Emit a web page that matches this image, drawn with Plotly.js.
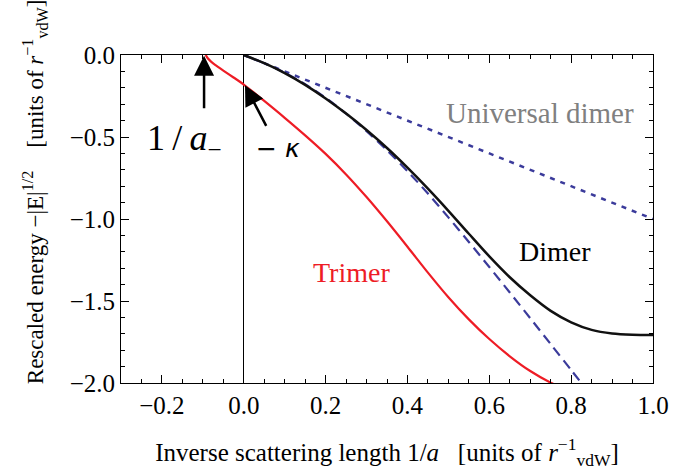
<!DOCTYPE html>
<html>
<head>
<meta charset="utf-8">
<script src="https://cdn.plot.ly/plotly-3.0.1.min.js"></script>
<style>html,body{margin:0;padding:0;background:#fff;}#chart{width:693px;height:470px;}</style>
</head>
<body>
<div id="chart"></div>
<script>
// Inverse scattering length 1/a (units of r_vdW^-1)
const dimerX = [0, 0.05, 0.1, 0.15, 0.2, 0.25, 0.3, 0.35, 0.4, 0.45, 0.5, 0.55, 0.6, 0.65, 0.7, 0.75, 0.8, 0.85, 0.9, 0.95, 1.0];
const dimerY = [0, -0.05, -0.11, -0.182, -0.265, -0.357, -0.457, -0.567, -0.687, -0.815, -0.95, -1.09, -1.228, -1.355, -1.465, -1.56, -1.63, -1.676, -1.698, -1.706, -1.708];

const trimerX = [-0.093, -0.088, -0.08, -0.07, -0.05, -0.025, 0, 0.05, 0.1, 0.15, 0.2, 0.25, 0.3, 0.35, 0.4, 0.45, 0.5, 0.55, 0.6, 0.65, 0.7, 0.75, 0.77];
const trimerY = [0, -0.02, -0.04, -0.06, -0.095, -0.137, -0.18, -0.28, -0.383, -0.49, -0.603, -0.728, -0.866, -1.014, -1.169, -1.327, -1.477, -1.612, -1.732, -1.837, -1.927, -1.998, -2.02];

const dashedX = [0, 0.05, 0.1, 0.15, 0.2, 0.25, 0.3, 0.35, 0.4, 0.45, 0.5, 0.55, 0.6, 0.65, 0.7, 0.75, 0.8, 0.83];
const dashedY = [0, -0.05, -0.108, -0.178, -0.261, -0.357, -0.464, -0.581, -0.708, -0.845, -0.99, -1.14, -1.293, -1.448, -1.605, -1.763, -1.921, -2.016];

const universalX = [0, 1.0];
const universalY = [0, -1.0];

// tick settings (labels every 0.2 on x, every 0.5 on y)
const xTickStep = 0.2, xMinorStep = 0.05;
const yTickStep = 0.5, yMinorStep = 0.1;

const serif = "Liberation Serif, Times New Roman, serif";
const blue = "#3b3b9b";

const traces = [
  {x: universalX, y: universalY, mode: "lines", line: {color: blue, width: 2.5, dash: "5px,6px"}, hoverinfo: "skip"},
  {x: dashedX, y: dashedY, mode: "lines", line: {color: blue, width: 2.2, dash: "10px,6px", shape: "spline", smoothing: 0.8}, hoverinfo: "skip"},
  {x: dimerX, y: dimerY, mode: "lines", line: {color: "#111111", width: 2.5, shape: "spline", smoothing: 0.8}, hoverinfo: "skip"},
  {x: trimerX, y: trimerY, mode: "lines", line: {color: "#ee1c25", width: 2.2, shape: "spline", smoothing: 0.8}, hoverinfo: "skip"}
];

const layout = {
  width: 693, height: 470,
  margin: {l: 121, r: 40, t: 55, b: 87},
  showlegend: false,
  font: {family: serif, color: "#000", size: 25},
  xaxis: {
    range: [-0.3, 1.0], dtick: xTickStep, tick0: 0, tickformat: ".1f", automargin: false,
    ticks: "inside", ticklen: 8, tickcolor: "#000",
    minor: {dtick: xMinorStep, ticks: "inside", ticklen: 4, tickcolor: "#000"},
    showline: true, linecolor: "#000", mirror: "allticks",
    showgrid: false, zeroline: true, zerolinecolor: "#000", zerolinewidth: 1,
    tickfont: {family: serif, size: 25},
    title: {text: "Inverse scattering length 1/<i>a</i>&nbsp;&nbsp;&nbsp;[units of <i>r</i><sup>−1</sup><sub>vdW</sub>]", font: {family: serif, size: 25}}
  },
  yaxis: {
    range: [-2.0, 0.0], dtick: yTickStep, tick0: 0, tickformat: ".1f", automargin: false,
    ticks: "inside", ticklen: 8, tickcolor: "#000",
    minor: {dtick: yMinorStep, ticks: "inside", ticklen: 4, tickcolor: "#000"},
    showline: true, linecolor: "#000", mirror: "allticks",
    showgrid: false, zeroline: false,
    tickfont: {family: serif, size: 25}
  },
  annotations: [
    {xref: "paper", yref: "paper", x: -0.195, y: 0.584, textangle: -90, showarrow: false,
     text: "Rescaled energy −|E|<sup>1/2</sup>&nbsp;&nbsp;&nbsp;&nbsp;[units of <i>r</i><sup>−1</sup><sub>vdW</sub>]",
     font: {family: serif, size: 23, color: "#000"}},
    {x: 0.725, y: -0.356, text: "Universal dimer", showarrow: false, font: {family: serif, size: 29, color: "#808080"}},
    {x: 0.761, y: -1.20, text: "Dimer", showarrow: false, font: {family: serif, size: 28, color: "#000"}},
    {x: 0.264, y: -1.325, text: "Trimer", showarrow: false, font: {family: serif, size: 28, color: "#ee1c25"}},
    {x: -0.145, y: -0.52, text: "1\u2009/\u2009<i>a</i><sub>−</sub>", showarrow: false, font: {family: serif, size: 36, color: "#000"}},
    {x: 0.083, y: -0.57, text: "− <i>κ</i>", showarrow: false, font: {family: "DejaVu Sans, sans-serif", size: 25, color: "#000"}},
    {x: -0.097, y: -0.005, ax: 0, ay: 54, text: "", showarrow: true, arrowhead: 2, arrowsize: 1.6, arrowwidth: 2.5, arrowcolor: "#000", standoff: 0, startstandoff: 0},
    {x: 0.003, y: -0.185, ax: 22, ay: 42, text: "", showarrow: true, arrowhead: 2, arrowsize: 1.6, arrowwidth: 2.5, arrowcolor: "#000", standoff: 0, startstandoff: 0}
  ]
};

Plotly.newPlot("chart", traces, layout, {displayModeBar: false});
</script>
</body>
</html>
